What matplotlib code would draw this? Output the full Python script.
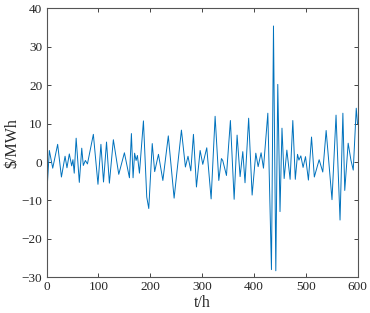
import matplotlib
matplotlib.use("Agg")
import matplotlib.pyplot as plt

# Extrema (t in hours, price in $/MWh)
t_h = [0, 5.5, 12, 21.5, 28.8, 35.8, 39.5, 44, 48.6, 51, 53.5, 57.2, 63.3, 68,
       71, 75, 79, 90.4, 99.3, 105, 110, 115.8, 121.3, 129, 139.4, 150.3, 160,
       163.8, 167, 170, 172.8, 175.4, 179.3, 187, 193.4, 197.3, 204, 208.7,
       216, 224.5, 235, 246.2, 260.3, 268, 273, 278.4, 283.5, 289.3, 296.4,
       301.5, 309.2, 317.6, 325.3, 332.4, 337.5, 340, 347.2, 354.8, 362,
       367.7, 373.5, 378.7, 383, 390, 396.7, 403.8, 408.3, 414, 418.6, 427,
       434, 437.9, 442.4, 446.2, 450.5, 454.3, 458.5, 463.7, 470, 475.2,
       480, 484.3, 487, 490.7, 495, 499.7, 505.3, 511.3, 516.7, 526,
       533, 539.5, 550.8, 558.6, 566.3, 571.8, 575.4, 582, 587.3, 591.8,
       597.6, 600]
price = [-9.5, 3.0, -1.6, 4.6, -3.9, 1.5, -1.5, 2.1, -1.0, 0.6, -2.9, 6.2, -5.3,
         3.6, -0.9, 0.4, -0.5, 7.2, -5.8, 4.6, -5.2, 5.2, -5.5, 5.8, -3.2, 2.4,
         -4.1, 7.4, -4.1, 2.3, 0.4, 1.7, -2.9, 10.7, -9.1, -12.1, 4.8, -2.5,
         2.0, -4.8, 6.8, -9.4, 8.3, -1.3, 1.5, -2.3, 7.2, -6.5, 3.0, -0.6, 3.7,
         -9.6, 11.9, -4.8, 0.9, 0.4, -3.5, 10.8, -9.7, 7.0, -3.8, 2.7, -5.4,
         11.4, -8.6, 2.3, -1.2, 2.4, -1.6, 12.7, -28.0, 35.4, -28.3, 20.2,
         -12.9, 8.8, -4.3, 3.1, -4.5, 10.8, -4.5, 2.0, 0.5, 1.6, -1.4, 1.4,
         -4.7, 6.5, -3.9, 0.6, -2.6, 8.2, -9.8, 12.2, -15.1, 12.7, -7.4, 4.9,
         0.5, -2.1, 14.0, 10.0]

x_ticks = [0, 100, 200, 300, 400, 500, 600]
y_ticks = [-30, -20, -10, 0, 10, 20, 30, 40]

plt.rcParams['font.family'] = ['Liberation Serif', 'DejaVu Serif']

fig = plt.figure(figsize=(3.70, 3.13), dpi=100)
ax = fig.add_axes([46.5 / 370, 1 - 277.3 / 313, (357.5 - 46.5) / 370, (277.3 - 8.3) / 313])
ax.plot(t_h, price, color='#0072BD', linewidth=0.7)

ax.set_xlim(0, 600)
ax.set_ylim(-30, 40)
ax.set_xticks(x_ticks)
ax.set_yticks(y_ticks)
ax.tick_params(direction='in', length=3, width=0.6, top=True, right=True,
               labelsize=9.5, colors='#262626', pad=3)
for s in ax.spines.values():
    s.set_color('#555555')
    s.set_linewidth(0.8)

ax.set_xlabel('t/h', fontsize=11.5, labelpad=1, color='#262626')
ax.set_ylabel(r'\$/MWh', fontsize=11.5, labelpad=1, color='#262626')

fig.savefig('out.png', dpi=100)
